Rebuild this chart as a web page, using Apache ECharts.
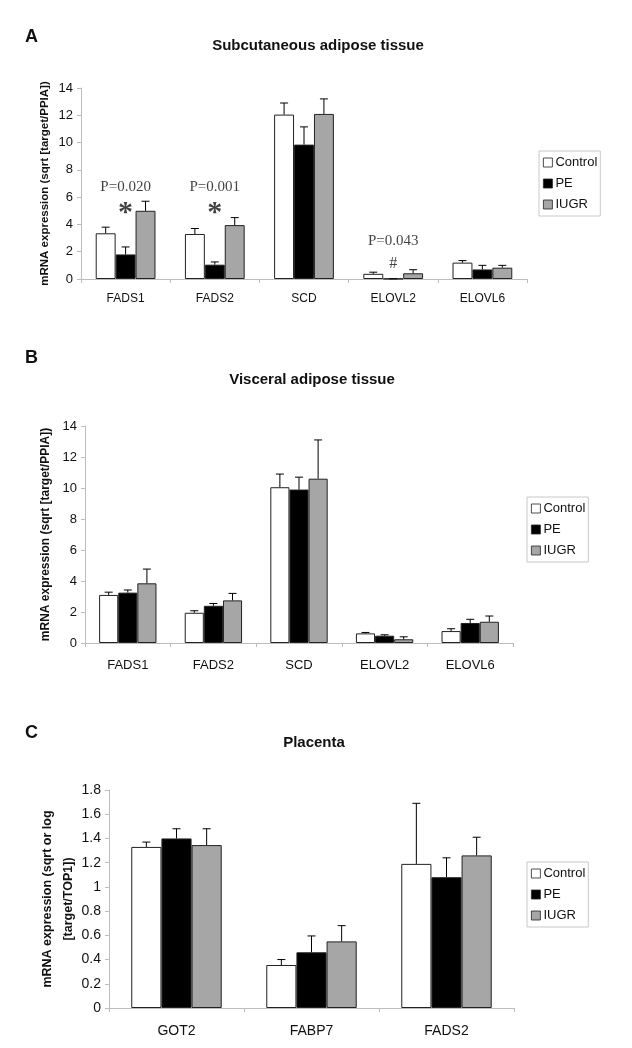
<!DOCTYPE html>
<html><head><meta charset="utf-8">
<script src="https://cdn.jsdelivr.net/npm/echarts@6/dist/echarts.min.js"></script>
<style>html,body{margin:0;padding:0;background:#fff}#c{width:632px;height:1048px}</style>
</head><body><div id="c"></div>
<script>
// ---- Data ----
const groups = ['Control', 'PE', 'IUGR'];

const catsA = ['FADS1', 'FADS2', 'SCD', 'ELOVL2', 'ELOVL6'];
const A_control = [3.35, 3.3, 12.05, 0.38, 1.2];
const A_pe      = [1.8, 1.05, 9.85, 0.02, 0.7];
const A_iugr    = [5.0, 3.95, 12.1, 0.42, 0.83];
const A_control_err = [3.8, 3.7, 12.9, 0.5, 1.35];
const A_pe_err      = [2.35, 1.25, 11.15, 0.02, 1.0];
const A_iugr_err    = [5.7, 4.5, 13.2, 0.68, 1.0];

const catsB = ['FADS1', 'FADS2', 'SCD', 'ELOVL2', 'ELOVL6'];
const B_control = [3.1, 1.95, 10.05, 0.62, 0.77];
const B_pe      = [3.25, 2.4, 9.9, 0.47, 1.29];
const B_iugr    = [3.85, 2.75, 10.6, 0.24, 1.37];
const B_control_err = [3.28, 2.08, 10.9, 0.68, 0.92];
const B_pe_err      = [3.42, 2.55, 10.7, 0.53, 1.53];
const B_iugr_err    = [4.77, 3.2, 13.1, 0.4, 1.74];

const catsC = ['GOT2', 'FABP7', 'FADS2'];
const C_control = [1.33, 0.355, 1.19];
const C_pe      = [1.40, 0.46, 1.08];
const C_iugr    = [1.345, 0.55, 1.26];
const C_control_err = [1.37, 0.40, 1.69];
const C_pe_err      = [1.48, 0.595, 1.24];
const C_iugr_err    = [1.48, 0.68, 1.41];

const annotA = [
  {cat: 'FADS1', y: 6.75, text: 'P=0.020', size: 15},
  {cat: 'FADS1', y: 4.8, text: '*', size: 30},
  {cat: 'FADS2', y: 6.75, text: 'P=0.001', size: 15},
  {cat: 'FADS2', y: 4.8, text: '*', size: 30},
  {cat: 'ELOVL2', y: 2.78, text: 'P=0.043', size: 15},
  {cat: 'ELOVL2', y: 1.15, text: '#', size: 16}
];

const yTicksAB = {min: 0, max: 14, interval: 2};
const yTicksC = {min: 0, max: 1.8, interval: 0.2};

// ---- Styles ----
const SANS = 'Liberation Sans, Arial, sans-serif';
const SERIF = 'Liberation Serif, Times New Roman, serif';
const colors = {Control: '#ffffff', PE: '#000000', IUGR: '#a6a6a6'};
const GAP = 0.33;

function errRender(g) {
  return function (params, api) {
    const x = api.value(0), v = api.value(1), e = api.value(2);
    const c = api.coord([x, v]);
    const ce = api.coord([x, e]);
    const catW = api.size([1, 0])[0];
    const bw = catW * (1 - GAP) / 3;
    const cx = c[0] + (g - 1) * bw;
    const st = {stroke: '#000', lineWidth: 1};
    return {type: 'group', children: [
      {type: 'line', shape: {x1: cx, y1: c[1], x2: cx, y2: ce[1]}, style: st},
      {type: 'line', shape: {x1: cx - 4, y1: ce[1], x2: cx + 4, y2: ce[1]}, style: st}
    ]};
  };
}

function panelSeries(idx, vals, errs) {
  const out = [];
  groups.forEach((g, i) => {
    out.push({
      type: 'bar', name: g, xAxisIndex: idx, yAxisIndex: idx,
      data: vals[i], barGap: '0%', barCategoryGap: (GAP * 100) + '%',
      itemStyle: {color: colors[g], borderColor: '#222', borderWidth: 1},
      emphasis: {disabled: true}, animation: false
    });
  });
  groups.forEach((g, i) => {
    out.push({
      type: 'custom', xAxisIndex: idx, yAxisIndex: idx, z: 5,
      renderItem: errRender(i),
      data: vals[i].map((v, k) => [k, v, errs[i][k]]),
      animation: false, silent: true
    });
  });
  return out;
}

function xAx(idx, cats, fs, margin) {
  return {
    type: 'category', gridIndex: idx, data: cats,
    axisLine: {lineStyle: {color: '#bdbdbd', width: 1}},
    axisTick: {show: true, length: 4, lineStyle: {color: '#bdbdbd'}},
    axisLabel: {color: '#111', fontFamily: SANS, fontSize: fs, margin: margin}
  };
}
function yAx(idx, t, fs, name, nameGap, nfs, fmt) {
  return {
    type: 'value', gridIndex: idx, min: t.min, max: t.max, interval: t.interval,
    splitLine: {show: false},
    axisLine: {show: true, lineStyle: {color: '#bdbdbd', width: 1}},
    axisTick: {show: true, length: 4, lineStyle: {color: '#bdbdbd'}},
    axisLabel: {color: '#111', fontFamily: SANS, fontSize: fs, margin: 8, formatter: fmt},
    name: name, nameLocation: 'middle', nameGap: nameGap, nameRotate: 90,
    nameMoveOverlap: false,
    nameTextStyle: {fontFamily: SANS, fontWeight: 'bold', fontSize: nfs, color: '#111', lineHeight: 21}
  };
}
function legend(left, top) {
  return {
    data: groups, orient: 'vertical', left: left, top: top,
    borderColor: '#c8c8c8', borderWidth: 1, padding: [5, 3, 5, 4],
    itemWidth: 9, itemHeight: 9, itemGap: 8, icon: 'rect', selectedMode: false,
    itemStyle: {borderWidth: 0.8, borderColor: '#222'},
    textStyle: {fontFamily: SANS, fontSize: 13, color: '#111', padding: [0, 0, 0, -2]}
  };
}

const annotSeries = {
  type: 'scatter', xAxisIndex: 0, yAxisIndex: 0, symbolSize: 0, silent: true, animation: false,
  data: annotA.map(a => ({value: [catsA.indexOf(a.cat), a.y], name: a.text,
    label: {show: true, position: 'inside', formatter: a.text, fontFamily: SERIF, fontSize: a.size, color: '#111',
      fontWeight: a.text === '*' ? 'bold' : 'normal'}})),
  z: 6
};

const fmt1 = v => String(+v.toFixed(1));

const option = {
  backgroundColor: '#fff',
  animation: false,
  title: [
    {text: 'A', left: 20, top: 23, textStyle: {fontFamily: SANS, fontWeight: 'bold', fontSize: 18, color: '#111'}},
    {text: 'Subcutaneous adipose tissue', left: 313, textAlign: 'center', top: 33, textStyle: {fontFamily: SANS, fontWeight: 'bold', fontSize: 15, color: '#111'}},
    {text: 'B', left: 20, top: 344, textStyle: {fontFamily: SANS, fontWeight: 'bold', fontSize: 18, color: '#111'}},
    {text: 'Visceral adipose tissue', left: 307, textAlign: 'center', top: 367, textStyle: {fontFamily: SANS, fontWeight: 'bold', fontSize: 15, color: '#111'}},
    {text: 'C', left: 20, top: 719, textStyle: {fontFamily: SANS, fontWeight: 'bold', fontSize: 18, color: '#111'}},
    {text: 'Placenta', left: 309, textAlign: 'center', top: 730, textStyle: {fontFamily: SANS, fontWeight: 'bold', fontSize: 15, color: '#111'}}
  ],
  legend: [legend(539, 151), legend(527, 497), legend(527, 862)],
  grid: [
    {left: 81, right: 105, top: 88, bottom: 769},
    {left: 85, right: 119, top: 426, bottom: 405},
    {left: 109, right: 118, top: 790, bottom: 40}
  ],
  xAxis: [xAx(0, catsA, 12, 14), xAx(1, catsB, 13, 16), xAx(2, catsC, 14, 16)],
  yAxis: [
    yAx(0, yTicksAB, 13, 'mRNA expression (sqrt [target/PPIA])', 26, 11.5),
    yAx(1, yTicksAB, 13, 'mRNA expression (sqrt [target/PPIA])', 29, 12),
    yAx(2, yTicksC, 14, 'mRNA expression (sqrt or log\n[target/TOP1])', 30, 12.5, fmt1)
  ],
  series: [
    ...panelSeries(0, [A_control, A_pe, A_iugr], [A_control_err, A_pe_err, A_iugr_err]),
    ...panelSeries(1, [B_control, B_pe, B_iugr], [B_control_err, B_pe_err, B_iugr_err]),
    ...panelSeries(2, [C_control, C_pe, C_iugr], [C_control_err, C_pe_err, C_iugr_err]),
    annotSeries
  ]
};
const chart = echarts.init(document.getElementById('c'), null, {renderer: 'canvas'});
chart.setOption(option);
</script></body></html>
